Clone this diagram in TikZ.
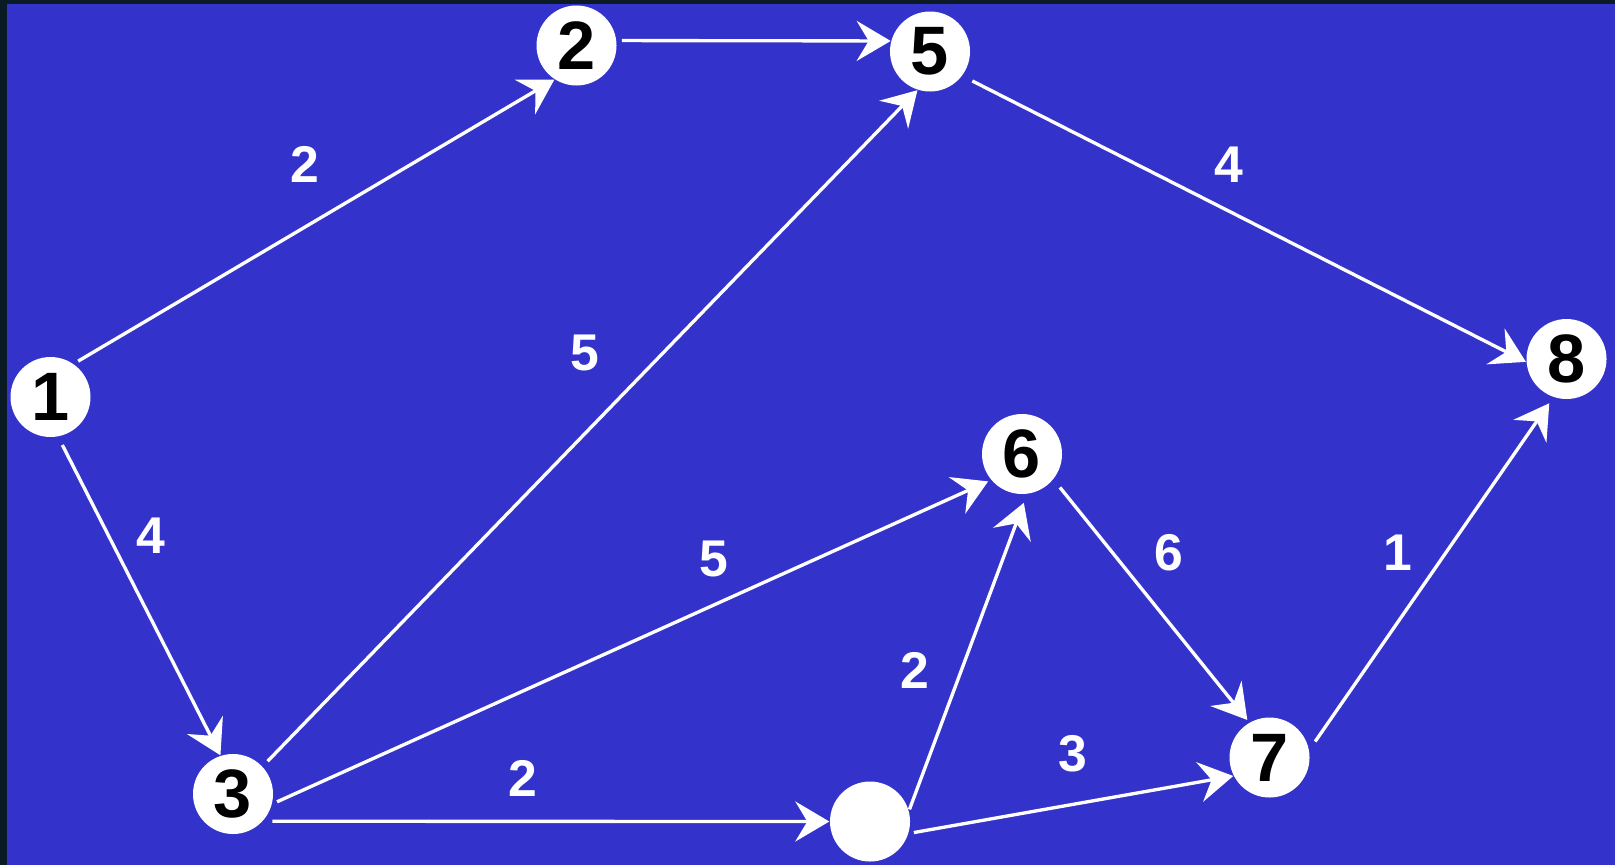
\documentclass[tikz,border=0pt]{standalone}
\usepackage{fontspec}
\setmainfont{Liberation Sans}
\usetikzlibrary{arrows.meta}
\definecolor{slidebg}{HTML}{3333CC}
\definecolor{slideedge}{HTML}{0B1B26}

\begin{document}
\begin{tikzpicture}[x=1cm,y=1cm,
  vertex/.style={circle,fill=white,minimum size=0.8cm,inner sep=0pt,text=black,
    font=\fontsize{19.5}{19.5}\selectfont\bfseries},
  weight/.style={text=white,font=\fontsize{14.7}{15}\selectfont\bfseries},
  arc/.style={white,line width=0.95pt,shorten <=0.05cm,
    -{Stealth[length=0.34cm,width=0.40cm,inset=0.12cm]}}]
\useasboundingbox (0,0) rectangle (16.15,8.65);
\fill[slideedge] (0,0) rectangle (16.15,8.65);
\fill[slidebg] (0.07,0) rectangle (16.15,8.61);
% vertices
\node[vertex] (n1) at (0.505,4.68) {1};
\node[vertex] (n2) at (5.765,8.195) {2};
\node[vertex] (n3) at (2.33,0.71) {3};
\node[vertex] (n4) at (8.70,0.435) {};
\node[vertex] (n5) at (9.30,8.135) {5};
\node[vertex] (n6) at (10.22,4.11) {6};
\node[vertex] (n7) at (12.695,1.075) {7};
\node[vertex] (n8) at (15.665,5.06) {8};
% arcs
\draw[arc] (n1.55) -- (n2.237);
\draw[arc] (n2.7) -- (n5.165);
\draw[arc,shorten <=0.07cm] (n3.43) -- (n5.252);
\draw[arc,shorten <=0.11cm] (n5.323) -- (n8.184);
\draw[arc,shorten <=0.09cm] (n1.281) -- (n3.108);
\draw[arc,shorten >=0.03cm] (n3.346) -- (n6.220);
\draw[arc,shorten <=0.09cm] (n3.318) -- (n4.180);
\draw[arc,shorten <=0.01cm,shorten >=0.09cm] (n4.16) -- (n6.277);
\draw[arc] (n4.343) -- (n7.207);
\draw[arc,shorten <=0.10cm,shorten >=0.03cm] (n6.321) -- (n7.120);
\draw[arc,shorten <=0.10cm,shorten >=0.07cm] (n7.11) -- (n8.251);
% weights
\node[weight] (w12) at (3.05,7.01) {2};
\node[weight] (w58) at (12.29,7.00) {4};
\node[weight] (w35) at (5.85,5.12) {5};
\node[weight] (w13) at (1.51,3.29) {4};
\node[weight] (w36) at (7.14,3.06) {5};
\node[weight] (w67) at (11.69,3.12) {6};
\node[weight] (w78) at (13.98,3.12) {1};
\node[weight] (w46) at (9.15,1.95) {2};
\node[weight] (w47) at (10.73,1.11) {3};
\node[weight] (w34) at (5.23,0.87) {2};
\end{tikzpicture}
\end{document}
